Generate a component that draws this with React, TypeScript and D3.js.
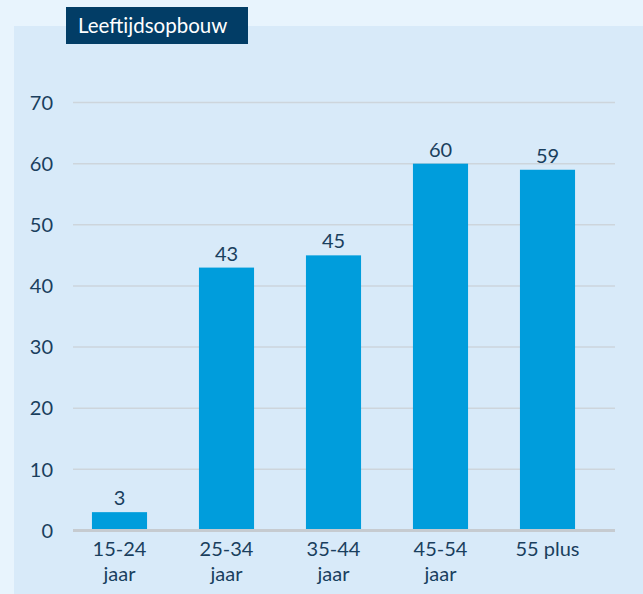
import React from "react";
import * as d3 from "d3";

const categories: string[][] = [
  ["15-24", "jaar"],
  ["25-34", "jaar"],
  ["35-44", "jaar"],
  ["45-54", "jaar"],
  ["55 plus"],
];
const values: number[] = [3, 43, 45, 60, 59];
const yTicks: number[] = [0, 10, 20, 30, 40, 50, 60, 70];
const title = "Leeftijdsopbouw";

const W = 643;
const H = 594;
const FONT = "Lato, 'Open Sans', sans-serif";
const NAVY = "#1a3f5e";

export default function App() {
  const x = d3
    .scaleBand<number>()
    .domain(values.map((_, i) => i))
    .range([66, 601])
    .paddingInner(0.485)
    .paddingOuter(0.2425);
  const y = d3.scaleLinear().domain([0, 70]).range([530.5, 102.5]);

  return (
    <svg
      width={W}
      height={H}
      style={{ position: "absolute", left: 0, top: 0, display: "block" }}
    >
      <rect x={0} y={0} width={W} height={H} fill="#e8f4fd" />
      <rect x={14} y={26} width={W - 14} height={H - 26} fill="#d8eaf9" />

      {/* title tab */}
      <rect x={66} y={7} width={182} height={37} fill="#023d66" />
      <text x={78} y={33} fill="#ffffff" fontFamily={FONT} fontSize={20.5}>
        {title}
      </text>

      {/* gridlines and y labels */}
      {yTicks.map((t) => (
        <g key={t}>
          {t !== 0 && (
            <line
              x1={73}
              x2={615}
              y1={y(t)}
              y2={y(t)}
              stroke="#cdd5dc"
              strokeWidth={1.5}
            />
          )}
          <text
            x={53}
            y={y(t)}
            dy="0.36em"
            textAnchor="end"
            fill={NAVY}
            fontFamily={FONT}
            fontSize={20}
          >
            {t}
          </text>
        </g>
      ))}

      {/* bars */}
      {values.map((v, i) => (
        <g key={i}>
          <rect
            x={x(i)!}
            y={y(v)}
            width={x.bandwidth()}
            height={y(0) - y(v)}
            fill="#009ddc"
          />
          <text
            x={x(i)! + x.bandwidth() / 2}
            y={y(v) - 7}
            textAnchor="middle"
            fill={NAVY}
            fontFamily={FONT}
            fontSize={20}
          >
            {v}
          </text>
        </g>
      ))}

      {/* baseline */}
      <line x1={73} x2={615} y1={y(0)} y2={y(0)} stroke="#c6cbd0" strokeWidth={3} />

      {/* category labels */}
      {categories.map((lines, i) => (
        <text
          key={i}
          x={x(i)! + x.bandwidth() / 2}
          y={556}
          textAnchor="middle"
          fill={NAVY}
          fontFamily={FONT}
          fontSize={20}
        >
          {lines.map((l, j) => (
            <tspan key={j} x={x(i)! + x.bandwidth() / 2} dy={j === 0 ? 0 : 25}>
              {l}
            </tspan>
          ))}
        </text>
      ))}
    </svg>
  );
}
